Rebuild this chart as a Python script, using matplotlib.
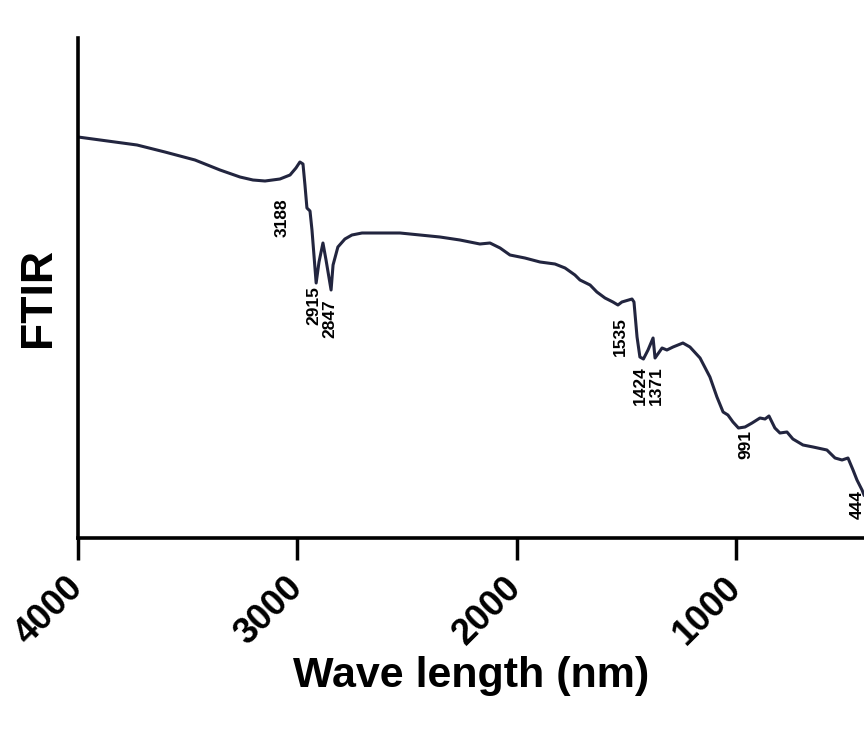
"""FTIR spectrum with labelled absorption bands (x axis runs 4000 -> 400)."""

import matplotlib
matplotlib.use("Agg")
import matplotlib.pyplot as plt
import matplotlib.transforms as mtransforms

# spectrum (wavenumber, relative signal)
wavenumber = [
    4000, 3731, 3604, 3467, 3353, 3262, 3203, 3148, 3080, 3034, 3007, 2989,
    2975, 2966, 2957, 2943, 2934, 2915, 2902, 2884, 2870, 2847, 2838, 2816,
    2784, 2752, 2706, 2624, 2533, 2442, 2351, 2260, 2169, 2123, 2077, 2032,
    1964, 1895, 1827, 1781, 1736, 1713, 1667, 1636, 1599, 1563, 1540, 1522,
    1476, 1467, 1453, 1440, 1424, 1403, 1380, 1371, 1339, 1317, 1289, 1244,
    1212, 1166, 1121, 1089, 1061, 1039, 1016, 991, 961, 929, 893, 870, 852,
    825, 802, 770, 743, 697, 651, 588, 551, 519, 492, 469, 451, 428, 419,
]
signal = [
    80.2, 78.6, 77.2, 75.6, 73.6, 72.2, 71.6, 71.4, 71.8, 72.6, 74.0, 75.2,
    74.8, 70.6, 66.0, 65.4, 61.6, 51.0, 55.2, 59.0, 55.6, 49.6, 54.6, 58.2,
    59.8, 60.6, 61.0, 61.0, 61.0, 60.6, 60.2, 59.6, 58.8, 59.0, 58.0, 56.6,
    56.0, 55.2, 54.8, 54.0, 52.6, 51.6, 50.6, 49.2, 48.0, 47.2, 46.6, 47.2,
    47.8, 47.2, 40.2, 36.2, 35.8, 37.6, 40.0, 36.0, 38.0, 37.6, 38.2, 39.0,
    38.2, 36.0, 32.2, 28.2, 25.2, 24.6, 23.2, 22.0, 22.2, 23.0, 24.0, 23.8,
    24.4, 22.0, 21.0, 21.2, 19.8, 18.6, 18.2, 17.6, 16.0, 15.6, 16.0, 13.6,
    11.6, 9.6, 8.6,
]

# band labels and where their text sits
peak_labels = ["3188", "2915", "2847", "1535", "1424", "1371", "991", "444"]
label_x = [3071, 2925, 2852, 1531, 1440, 1367, 957, 451]
label_y = [64.0, 46.4, 43.8, 40.2, 30.4, 30.4, 18.6, 6.6]

x_ticks = [4000, 3000, 2000, 1000]

line_color = "#22253f"

plt.rcParams["font.family"] = ["Liberation Sans", "DejaVu Sans"]

fig = plt.figure(figsize=(8.64, 7.31), dpi=100)
ax = fig.add_axes([78 / 864, 1 - 538 / 731, (864 - 78) / 864, 500 / 731])

ax.plot(wavenumber, signal, color=line_color, linewidth=2.2,
        solid_joinstyle="round")

for txt, x, y in zip(peak_labels, label_x, label_y):
    ax.text(x, y, txt, rotation=90, ha="center", va="center",
            fontsize=12.5, fontweight="bold", color="black")

ax.set_xlim(4000, 419)
ax.set_ylim(0, 100)
ax.set_yticks([])
ax.set_xticks(x_ticks)
ax.tick_params(axis="x", length=16, width=2.5, pad=7)
ax.set_xticklabels([str(t) for t in x_ticks], rotation=45, ha="right",
                   rotation_mode="anchor", fontsize=26, fontweight="bold")
# nudge the slanted labels so their ends sit just right of the ticks
shift = mtransforms.ScaledTranslation(-13 / 100, 0, fig.dpi_scale_trans)
for lbl in ax.get_xticklabels():
    lbl.set_transform(lbl.get_transform() + shift)

for side in ("top", "right"):
    ax.spines[side].set_visible(False)
for side in ("left", "bottom"):
    ax.spines[side].set_linewidth(2.6)

ax.set_xlabel("Wave length (nm)", fontsize=31, fontweight="bold")
ax.xaxis.set_label_coords(0.5, -0.235)
ax.set_ylabel("FTIR", fontsize=32, fontweight="bold")
ax.yaxis.set_label_coords(-0.024, 0.48)

fig.savefig("out.png", dpi=100)
